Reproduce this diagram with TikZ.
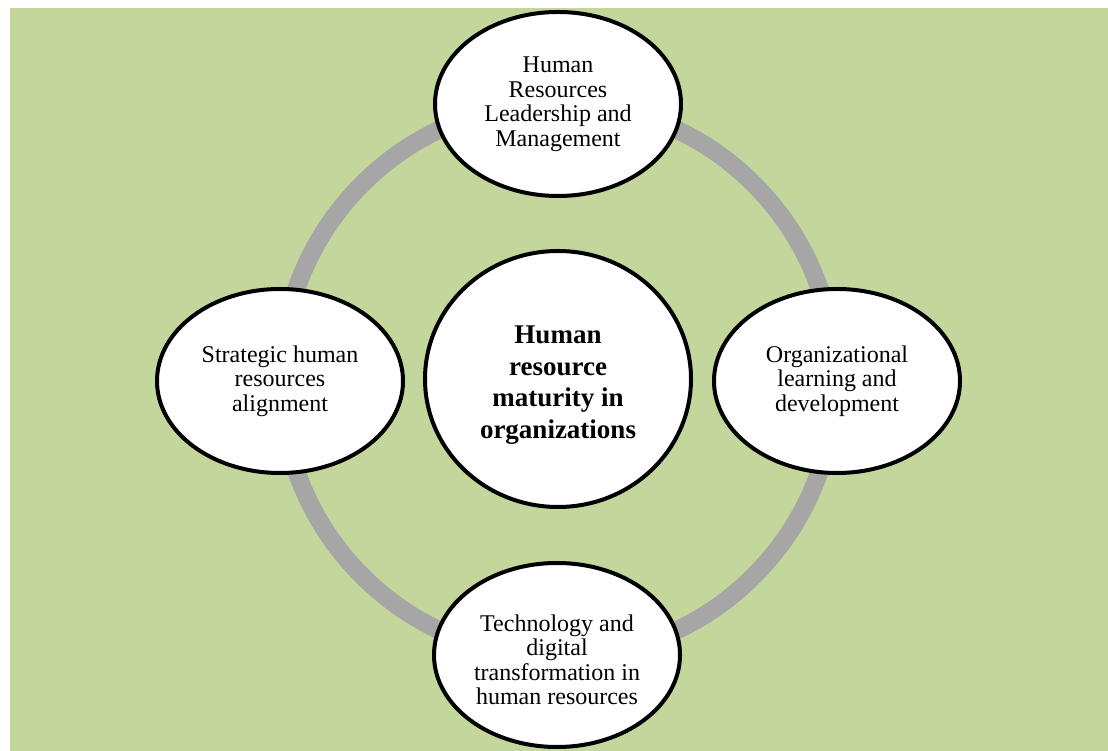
\documentclass[tikz,border=0pt]{standalone}
\usepackage{fontspec}
\setmainfont{Liberation Serif}
\usetikzlibrary{shapes.geometric}
\definecolor{bggreen}{HTML}{C3D69B}
\definecolor{ringgray}{HTML}{A6A6A6}
\begin{document}
\begin{tikzpicture}[x=1pt,y=1pt,
  ring/.style={ellipse, draw=black, line width=4pt, fill=white, inner sep=0pt},
  outer/.style={ring, minimum width=246pt, minimum height=184pt, align=center,
    font=\fontsize{24}{24.5}\selectfont},
  hub/.style={ring, minimum width=266pt, minimum height=256pt},
  hubtext/.style={align=center, inner sep=0pt,
    font=\fontsize{27}{31.5}\selectfont\bfseries},
  lowtext/.style={align=center, inner sep=0pt,
    font=\fontsize{24}{24.5}\selectfont}]
  \useasboundingbox (0,0) rectangle (1108,751);
  % background panel
  \fill[bggreen] (10,0) rectangle (1108,743);
  % gray cycle ring
  \draw[ringgray, line width=18pt] (558,371) circle (277);
  % centre and surrounding stages
  \node[hub, label={[hubtext, yshift=-6pt]center:{Human\\resource\\maturity in\\organizations}}]
    (hub) at (558,372) {};
  \node[outer] (top) at (558,647) {Human\\Resources\\Leadership and\\Management};
  \node[outer] (left) at (280,370) {Strategic human\\resources\\alignment};
  \node[outer] (right) at (837,370) {Organizational\\learning and\\development};
  \node[outer, minimum width=246pt, minimum height=184pt,
    label={[lowtext, yshift=-5pt]center:{Technology and\\digital\\transformation in\\human resources}}]
    (bottom) at (557,96) {};
\end{tikzpicture}
\end{document}
